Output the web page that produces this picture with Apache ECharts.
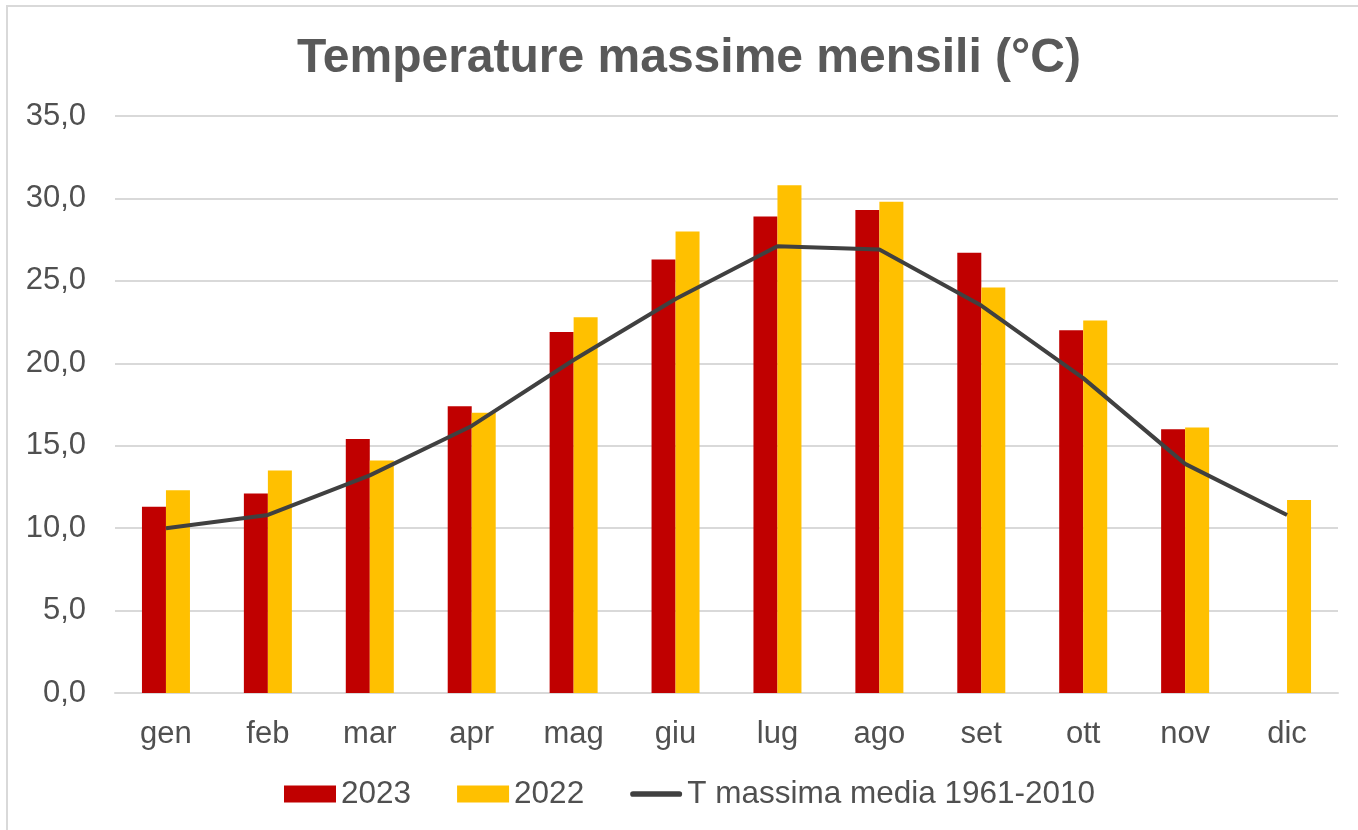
<!DOCTYPE html>
<html>
<head>
<meta charset="utf-8">
<script src="https://cdn.jsdelivr.net/npm/echarts@6/dist/echarts.min.js"></script>
<style>
html,body{margin:0;padding:0;background:#fff;}
#chart{width:1358px;height:830px;}
</style>
</head>
<body>
<div id="chart"></div>
<script>
const months = ['gen','feb','mar','apr','mag','giu','lug','ago','set','ott','nov','dic'];
const t2023 = [11.3, 12.1, 15.4, 17.4, 21.9, 26.3, 28.9, 29.3, 26.7, 22.0, 16.0, null];
const t2022 = [12.3, 13.5, 14.1, 17.0, 22.8, 28.0, 30.8, 29.8, 24.6, 22.6, 16.1, 11.7];
const tMedia = [10.0, 10.8, 13.2, 16.2, 20.2, 23.9, 27.1, 26.9, 23.5, 19.1, 13.9, 10.8];
const names = ['2023', '2022', 'T massima media 1961-2010'];

const FONT = '"Liberation Sans", Arial, sans-serif';
const TXT = '#505050';
const chart = echarts.init(document.getElementById('chart'), null, {renderer: 'canvas'});
chart.setOption({
  animation: false,
  backgroundColor: '#ffffff',
  graphic: [{
    type: 'rect', shape: {x: 7, y: 6, width: 1400, height: 900},
    style: {fill: 'none', stroke: '#d9d9d9', lineWidth: 2}, silent: true, z: -10
  }],
  title: {
    text: 'Temperature massime mensili (°C)',
    left: 292, top: 30,
    textStyle: {fontFamily: FONT, fontWeight: 'bold', fontSize: 48, color: '#595959'}
  },
  grid: {left: 115, right: 20, top: 116, bottom: 137, containLabel: false},
  legend: {
    data: [
      {name: names[0], icon: 'rect'},
      {name: names[1], icon: 'rect'},
      {name: names[2], icon: 'path://M3,0 H52 A3,3 0 0 1 52,6 H3 A3,3 0 0 1 3,0 Z',
       itemStyle: {color: '#404040'}}
    ],
    top: 773, left: 279,
    itemWidth: 52, itemHeight: 17, itemGap: 46,
    textStyle: {fontFamily: FONT, fontSize: 31.5, color: TXT}
  },
  xAxis: {
    type: 'category', data: months,
    axisLine: {lineStyle: {color: '#d9d9d9', width: 2}},
    axisTick: {show: false},
    axisLabel: {fontFamily: FONT, fontSize: 31, color: TXT, margin: 26}
  },
  yAxis: {
    type: 'value', min: 0, max: 35, interval: 5,
    axisLine: {show: false}, axisTick: {show: false},
    splitLine: {lineStyle: {color: '#d9d9d9', width: 2}},
    axisLabel: {fontFamily: FONT, fontSize: 31, color: TXT, margin: 29,
      formatter: v => v.toFixed(1).replace('.', ',')}
  },
  series: [
    {name: names[0], type: 'bar', data: t2023, barWidth: 24, barGap: '0%',
     itemStyle: {color: '#c00000'}},
    {name: names[1], type: 'bar', data: t2022, barWidth: 24, barGap: '0%',
     itemStyle: {color: '#ffc000'}},
    {name: names[2], type: 'line', data: tMedia, symbol: 'none',
     lineStyle: {color: '#404040', width: 4}, itemStyle: {color: '#404040'}, z: 5}
  ]
});
</script>
</body>
</html>
